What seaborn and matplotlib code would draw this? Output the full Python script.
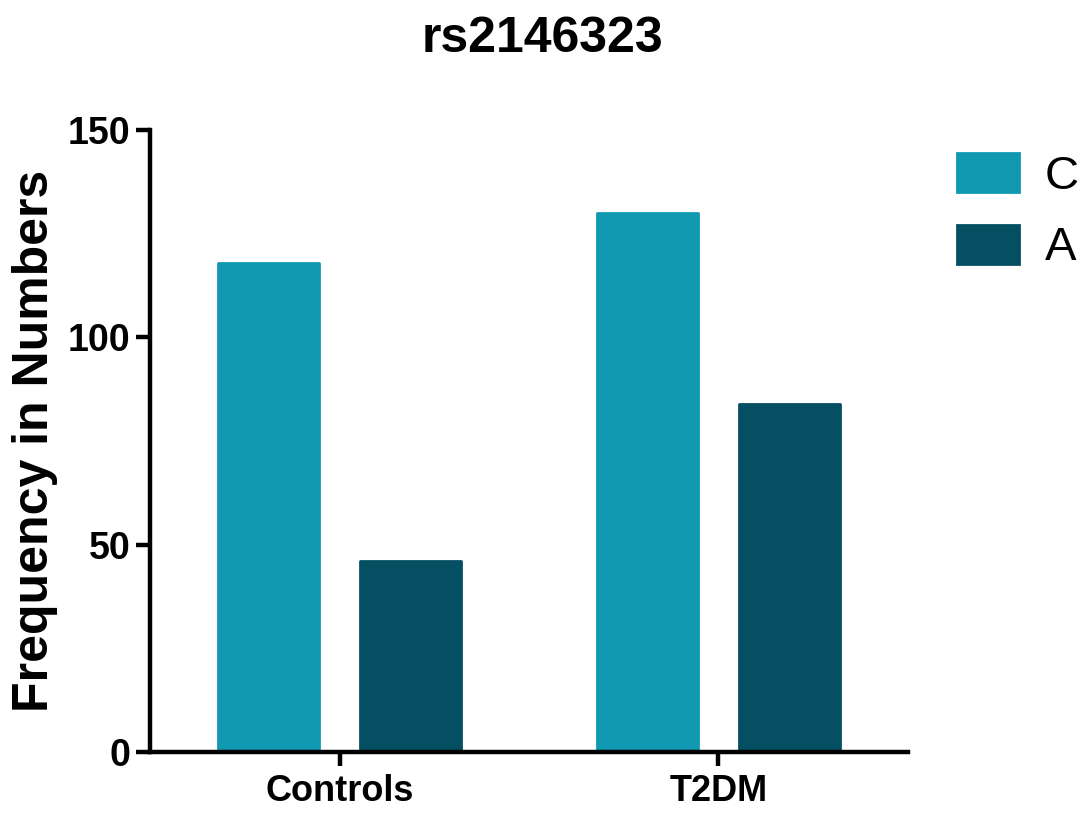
import pandas as pd
import seaborn as sns
import matplotlib.pyplot as plt

# data
groups = ['Controls', 'T2DM']
alleles = ['C', 'A']
c_counts = [118, 130]
a_counts = [46, 84]

df = pd.DataFrame({
    'Group': groups * 2,
    'Allele': ['C'] * 2 + ['A'] * 2,
    'Count': c_counts + a_counts,
})

sns.set_style('white')
plt.rcParams['font.family'] = ['Liberation Sans', 'DejaVu Sans']
plt.rcParams['text.color'] = 'black'
plt.rcParams['axes.labelcolor'] = 'black'
plt.rcParams['xtick.color'] = 'black'
plt.rcParams['ytick.color'] = 'black'

colors = {'C': '#1199b2', 'A': '#054f63'}

fig = plt.figure(figsize=(10.84, 8.22), dpi=100)
ax = fig.add_axes([0.1384, 0.0852, 0.6992, 0.7566])

sns.barplot(data=df, x='Group', y='Count', hue='Allele', hue_order=alleles,
            palette=colors, width=0.75, gap=0.29, ax=ax, saturation=1)

# soften the bar corners a little
for p in ax.patches:
    p.set_edgecolor(p.get_facecolor())
    p.set_linewidth(2)
    p.set_joinstyle('round')

ax.set_xlim(-0.5, 1.5)
ax.set_ylim(0, 150)
ax.set_yticks([0, 50, 100, 150])

sns.despine(ax=ax)
for s in ['left', 'bottom']:
    ax.spines[s].set_linewidth(3.2)
    ax.spines[s].set_color('black')

ax.tick_params(axis='both', direction='out', length=10, width=3.2, color='black',
               bottom=True, left=True)
ax.tick_params(axis='y', labelsize=27, pad=4)
ax.tick_params(axis='x', labelsize=26, pad=6)
for lab in ax.get_xticklabels() + ax.get_yticklabels():
    lab.set_fontweight('bold')

ax.set_xlabel('')
ax.set_ylabel('Frequency in Numbers', fontsize=36, fontweight='bold')
ax.yaxis.set_label_coords(-0.121, 0.5)
fig.suptitle('rs2146323', fontsize=36, fontweight='bold', y=0.98)

leg = ax.legend(loc='upper left', bbox_to_anchor=(1.04, 0.994), frameon=False,
                fontsize=34, handlelength=1.3, handleheight=0.9,
                handletextpad=0.55, labelspacing=0.55, borderaxespad=0)

plt.savefig('out.png', dpi=100)
